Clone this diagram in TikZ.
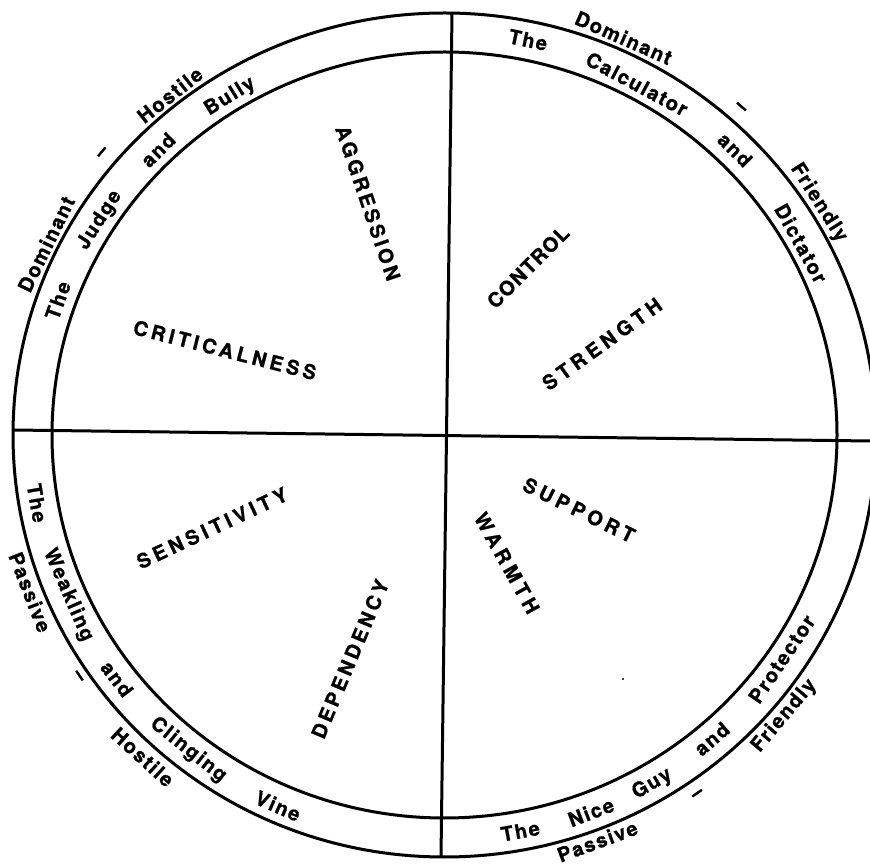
\documentclass[tikz,border=0pt]{standalone}
\usepackage{fontspec}
\setmainfont{TeX Gyre Heros}
\usetikzlibrary{calc}
\newcommand\ringw[5]{\node[ringtext, rotate=#4] (#1) at ($(C)+(#2:{#3*431.5} and {#3*422})$) {#5};}
\begin{document}
\begin{tikzpicture}[x=1pt,y=1pt,
  line width=3pt,
  ringtext/.style={font={\fontsize{20}{20}\selectfont\bfseries\addfontfeature{LetterSpace=8,FakeBold=1}}, inner sep=0pt},
  caps/.style={font={\fontsize{20}{20}\selectfont\bfseries\addfontfeature{LetterSpace=#1,FakeBold=1}}, inner sep=0pt},
  ]
\clip (0,0) rectangle (870,865);
\fill[white] (0,0) rectangle (870,865);
\coordinate (C) at (444.5,430);
\draw (C) ellipse [x radius=431.5, y radius=422];
\draw (C) ellipse [x radius=392.5, y radius=383];
\coordinate (vt) at (452,852);
\coordinate (vb) at (441,8);
\coordinate (hl) at (13,435);
\coordinate (hr) at (870,424);
\draw (vt) -- (vb);
\draw (hl) -- (hr);
% top-left
\ringw{tlo1}{153.9}{1.028}{63.9}{Dominant}
\ringw{tlo2}{139.8}{1.035}{49.8}{--}
\ringw{tlo3}{128.3}{1.027}{38.3}{Hostile}
\ringw{tlr1}{160.4}{0.951}{70.4}{The}
\ringw{tlr2}{147.5}{0.947}{57.5}{Judge}
\ringw{tlr3}{134.5}{0.947}{44.5}{and}
\ringw{tlr4}{121.8}{0.943}{31.8}{Bully}
% top-right
\ringw{tro1}{66.2}{1.029}{-23.8}{Dominant}
\ringw{tro2}{48.5}{1.034}{-41.5}{--}
\ringw{tro3}{32.4}{1.027}{-57.6}{Friendly}
\ringw{trr1}{78.3}{0.956}{-11.7}{The}
\ringw{trr2}{61.8}{0.944}{-28.2}{Calculator}
\ringw{trr3}{45.1}{0.954}{-44.9}{and}
\ringw{trr4}{28.8}{0.943}{-61.2}{Dictator}
% bottom-left
\ringw{blo1}{201.2}{1.030}{291.2}{Passive}
\ringw{blo2}{214.0}{1.025}{304}{--}
\ringw{blo3}{227.5}{1.035}{317.5}{Hostile}
\ringw{blr1}{189.7}{0.958}{279.7}{The}
\ringw{blr2}{203.5}{0.951}{293.5}{Weakling}
\ringw{blr3}{217.3}{0.954}{307.3}{and}
\ringw{blr4}{231.5}{0.954}{321.5}{Clinging}
\ringw{blr5}{246.3}{0.960}{336.3}{Vine}
% bottom-right
\ringw{bro1}{290.2}{1.026}{20.2}{Passive}
\ringw{bro2}{304.6}{1.036}{34.6}{--}
\ringw{bro3}{319.8}{1.031}{49.8}{Friendly}
\ringw{brr1}{280.6}{0.955}{10.6}{The}
\ringw{brr2}{290.8}{0.956}{20.8}{Nice}
\ringw{brr3}{300.2}{0.957}{30.2}{Guy}
\ringw{brr4}{310.7}{0.950}{40.7}{and}
\ringw{brr5}{325.8}{0.945}{55.8}{Protector}
% inner labels
\node[caps=15.2, rotate=-71.2] (aggr) at (368,662) {AGGRESSION};
\node[caps=18.5, rotate=-14.3] (crit) at (225,515) {CRITICALNESS};
\node[caps=6.3, rotate=45] (ctrl) at (528,598) {CONTROL};
\node[caps=22.7, rotate=35.8] (strg) at (602,521) {STRENGTH};
\node[caps=20.7, rotate=25.2] (sens) at (212,337) {SENSITIVITY};
\node[caps=17, rotate=67.3] (depd) at (350,206) {DEPENDENCY};
\node[caps=20.7, rotate=-26.2] (supp) at (579,355) {SUPPORT};
\node[caps=22, rotate=-60.9] (warm) at (507,302) {WARMTH};
\fill (623,186) circle [radius=1.2];
\end{tikzpicture}
\end{document}
